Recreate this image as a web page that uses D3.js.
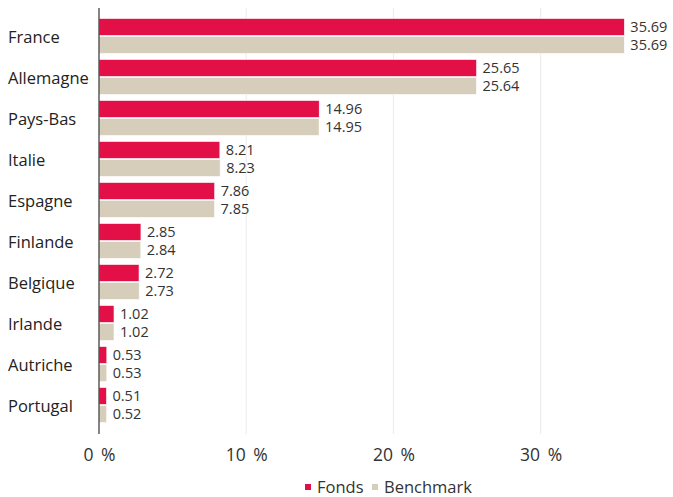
<!DOCTYPE html>
<html><head><meta charset="utf-8">
<script src="https://cdn.jsdelivr.net/npm/d3@7"></script>
<style>body{margin:0;background:#fff;} svg{display:block;font-family:"Open Sans","Noto Sans",sans-serif;}</style>
</head><body>
<svg id="c" width="673" height="497"></svg>
<script>
const categories = ["France","Allemagne","Pays-Bas","Italie","Espagne","Finlande","Belgique","Irlande","Autriche","Portugal"];
const seriesNames = ["Fonds","Benchmark"];
const fonds = [35.69,25.65,14.96,8.21,7.86,2.85,2.72,1.02,0.53,0.51];
const benchmark = [35.69,25.64,14.95,8.23,7.85,2.84,2.73,1.02,0.53,0.52];
const ticks = [0,10,20,30];
const colors = ["#E31048","#D6CEBB"];

const svg = d3.select("#c");
const x = d3.scaleLinear().domain([0,10]).range([99,246.2]);
const y0 = d3.scaleBand().domain(categories).range([15.5,425.5]);
const y1 = d3.scaleBand().domain(seriesNames).range([3,38]).paddingInner(0.06);

// gridlines
svg.append("g").selectAll("line").data(ticks.slice(1)).join("line")
  .attr("x1",d=>x(d)).attr("x2",d=>x(d)).attr("y1",8).attr("y2",434)
  .attr("stroke","#ebebeb").attr("stroke-width",1);

const data = categories.map((c,i)=>({c, vals:[fonds[i],benchmark[i]]}));
const g = svg.append("g").selectAll("g").data(data).join("g")
  .attr("transform",d=>`translate(0,${y0(d.c)})`);
g.selectAll("rect").data(d=>d.vals.map((v,j)=>({v,s:seriesNames[j],j}))).join("rect")
  .attr("x",x(0)).attr("y",d=>y1(d.s)).attr("width",d=>x(d.v)-x(0)).attr("height",y1.bandwidth())
  .attr("fill",d=>colors[d.j]).attr("stroke","#fff").attr("stroke-width",0.6);
g.selectAll("text.v").data(d=>d.vals.map((v,j)=>({v,s:seriesNames[j]}))).join("text")
  .attr("class","v").attr("x",d=>x(d.v)+6).attr("y",d=>y1(d.s)+y1.bandwidth()/2)
  .attr("dy","0.35em").attr("font-size",14.5).attr("fill","#333").text(d=>d.v.toFixed(2));

// category labels
svg.append("g").selectAll("text").data(categories).join("text")
  .attr("x",8).attr("y",d=>y0(d)+y0.bandwidth()/2+1).attr("dy","0.35em")
  .attr("font-size",16.5).attr("fill","#222").text(d=>d);

// axis line
svg.append("line").attr("x1",99).attr("x2",99).attr("y1",8).attr("y2",434)
  .attr("stroke","#333").attr("stroke-width",1.2);

// x tick labels
const xa = svg.append("g").attr("transform","translate(0,434)")
  .call(d3.axisBottom(x).tickValues(ticks).tickSize(0).tickPadding(15).tickFormat(d=>d+" %"));
xa.select(".domain").remove();
xa.selectAll("text").attr("font-size",17.5).attr("fill","#333").attr("word-spacing","3px")
  .attr("font-family","'Open Sans','Noto Sans',sans-serif");

// legend
const leg = svg.append("g").attr("transform","translate(305,487)");
const lx = [0,67];
seriesNames.forEach((s,i)=>{
  leg.append("rect").attr("x",lx[i]).attr("y",-3).attr("width",6).attr("height",6).attr("fill",colors[i]);
  leg.append("text").attr("x",lx[i]+12).attr("y",0).attr("dy","0.35em").attr("font-size",16.5).attr("fill","#333").text(s);
});
</script>
</body></html>
